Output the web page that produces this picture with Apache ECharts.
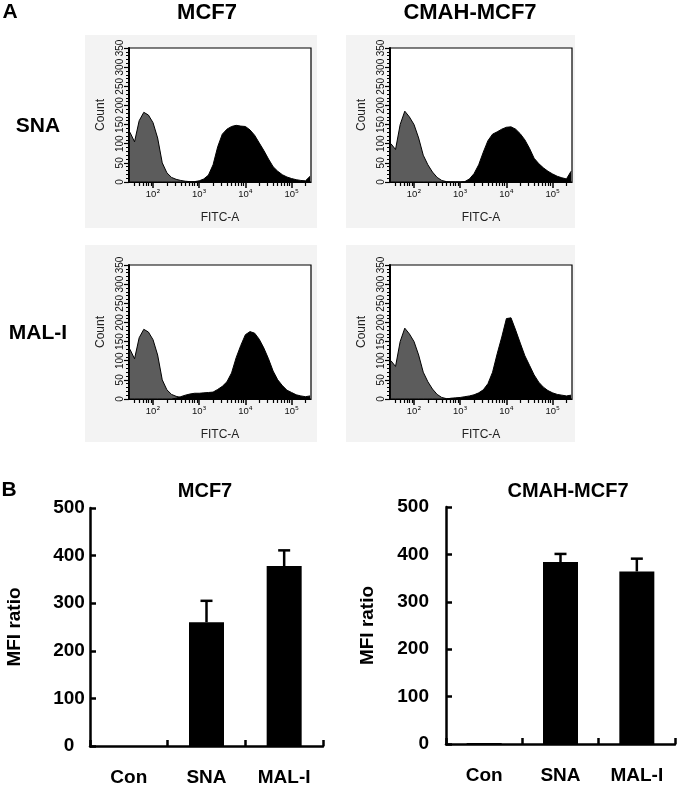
<!DOCTYPE html>
<html><head><meta charset="utf-8">
<script src="https://cdn.jsdelivr.net/npm/echarts@6/dist/echarts.min.js"></script>
<style>html,body{margin:0;padding:0;background:#fff}#c{width:680px;height:787px}</style>
</head><body><div id="c"></div>
<script>
// ---------- DATA ----------
// Histogram bins (log10 of FITC-A intensity)
const histBins = [1.5,1.6,1.7,1.8,1.9,2.0,2.1,2.2,2.3,2.4,2.5,2.6,2.7,2.8,2.9,3.0,3.1,3.2,3.3,3.4,3.5,3.6,3.7,3.8,3.9,4.0,4.1,4.2,4.3,4.4,4.5,4.6,4.7,4.8,4.9,5.0,5.1,5.2,5.3,5.4];
// MCF7 / SNA
const mcf7SnaCtrl   = [130,105,160,182,175,155,115,50,24,12,7,4,2,1,0,0,0,0,0,0,0,0,0,0,0,0,0,0,0,0,0,0,0,0,0,0,0,0,0,0];
const mcf7SnaLectin = [0,0,0,0,0,0,0,0,0,0,0,0,0,0,1,3,8,18,45,92,125,138,145,148,146,145,136,122,102,82,60,40,28,19,13,9,6,4,3,15];
// CMAH-MCF7 / SNA
const cmahSnaCtrl   = [100,85,150,185,170,150,115,70,45,26,12,4,1,0,0,0,0,0,0,0,0,0,0,0,0,0,0,0,0,0,0,0,0,0,0,0,0,0,0,0];
const cmahSnaLectin = [0,0,0,0,0,0,0,0,0,0,0,0,0,0,0,0,1,8,22,45,78,108,125,131,138,143,144,138,126,110,88,62,48,37,28,21,15,11,8,28];
// MCF7 / MAL-I
const mcf7MalCtrl   = [130,105,160,182,175,155,115,50,24,12,7,4,2,1,0,0,0,0,0,0,0,0,0,0,0,0,0,0,0,0,0,0,0,0,0,0,0,0,0,0];
const mcf7MalLectin = [0,0,0,0,0,0,0,0,0,0,2,6,10,13,15,15,16,17,18,25,33,45,68,108,140,168,176,172,156,133,105,73,50,35,23,17,11,8,6,8];
// CMAH-MCF7 / MAL-I
const cmahMalCtrl   = [100,85,150,185,170,150,115,70,45,26,12,4,1,0,0,0,0,0,0,0,0,0,0,0,0,0,0,0,0,0,0,0,0,0,0,0,0,0,0,0];
const cmahMalLectin = [0,0,0,0,0,0,0,0,0,0,0,0,0,2,3,4,6,8,11,16,24,40,70,118,162,210,212,180,146,113,88,63,44,31,22,16,12,10,8,10];
// Histogram axis ticks
const histDecades = [2,3,4,5];
const histDecadeSup = ['\u00B2','\u00B3','\u2074','\u2075'];
const histCountTicks = [0,50,100,150,200,250,300,350];
// Bar charts (panel B)
const barCategories = ['Con','SNA','MAL-I'];
const mcf7Mfi  = [0, 260, 378];
const mcf7Err  = [0, 45, 33];
const cmahMfi  = [2, 384, 364];
const cmahErr  = [0, 17, 27];

// ---------- LAYOUT ----------
const FONT = '"Liberation Sans", Arial, Helvetica, sans-serif';
const histPanels = [
  {left:129, top:48,  ctrl:mcf7SnaCtrl, lectin:mcf7SnaLectin},
  {left:390, top:48,  ctrl:cmahSnaCtrl, lectin:cmahSnaLectin},
  {left:129, top:265, ctrl:mcf7MalCtrl, lectin:mcf7MalLectin},
  {left:390, top:265, ctrl:cmahMalCtrl, lectin:cmahMalLectin}
];
const HW = 182, HH = 134, XMIN = 1.48, XMAX = 5.42;
const minorTickVals = [];
for (let n = 1; n <= 5; n++) for (let k = 2; k <= 9; k++) {
  const v = n + Math.log10(k);
  if (v > XMIN && v < XMAX) minorTickVals.push(v);
}

const grids = [], xAxes = [], yAxes = [], series = [];
histPanels.forEach((p, i) => {
  grids.push({left:p.left, top:p.top, width:HW, height:HH, show:true, borderColor:'#000', borderWidth:1.2, backgroundColor:'#fff'});
  xAxes.push({
    type:'value', gridIndex:i, min:XMIN, max:XMAX, position:'bottom', offset:0,
    splitLine:{show:false},
    axisLine:{show:true, lineStyle:{color:'#000', width:1}},
    axisTick:{show:true, customValues:histDecades, length:6, lineStyle:{color:'#000', width:1.5}},
    axisLabel:{customValues:histDecades, margin:6,
      formatter:v => '{m|10}{e|' + histDecadeSup[histDecades.indexOf(Math.round(v))] + '}',
      rich:{m:{fontSize:9.5, fontFamily:FONT, color:'#111', lineHeight:12},
            e:{fontSize:9.5, fontFamily:'"DejaVu Sans", sans-serif', color:'#111', lineHeight:12}}},
    name:'FITC-A', nameLocation:'middle', nameGap:30,
    nameTextStyle:{fontSize:12, fontFamily:FONT, color:'#222'}
  });
  xAxes.push({
    type:'value', gridIndex:i, min:XMIN, max:XMAX, position:'bottom', offset:0,
    splitLine:{show:false}, axisLine:{show:false},
    axisTick:{show:true, customValues:minorTickVals, length:4, lineStyle:{color:'#000', width:1.2}},
    axisLabel:{show:false}
  });
  yAxes.push({
    type:'value', gridIndex:i, min:0, max:350, interval:50,
    splitLine:{show:false},
    axisLine:{show:true, lineStyle:{color:'#000', width:2}},
    axisTick:{show:true, length:5, lineStyle:{color:'#000', width:1.2}},
    minorTick:{show:true, splitNumber:5, length:3, lineStyle:{color:'#000', width:1}},
    axisLabel:{rotate:90, fontSize:10, fontFamily:FONT, color:'#111', margin:4,
      formatter:v => histCountTicks.includes(v) ? String(v) : ''},
    name:'Count', nameLocation:'middle', nameGap:22,
    nameTextStyle:{fontSize:12, fontFamily:FONT, color:'#222'}
  });
  const mk = arr => histBins.map((b, j) => [b, arr[j]]);
  series.push({type:'line', xAxisIndex:2*i, yAxisIndex:i, data:mk(p.ctrl), symbol:'none', showSymbol:false,
    lineStyle:{color:'#000', width:1}, areaStyle:{color:'#5c5c5c', opacity:1}, silent:true, z:2});
  series.push({type:'line', xAxisIndex:2*i, yAxisIndex:i, data:mk(p.lectin), symbol:'none', showSymbol:false,
    lineStyle:{color:'#000', width:1}, areaStyle:{color:'#000', opacity:1}, silent:true, z:3});
});

// Bar charts
const barPanels = [
  {left:90,  top:508, width:233, height:239, vals:mcf7Mfi, errs:mcf7Err, labelMargin:21, labelAlign:'center', nameGap:66},
  {left:446, top:507, width:229, height:237, vals:cmahMfi, errs:cmahErr, labelMargin:17, labelAlign:'right',  nameGap:69}
];
barPanels.forEach((p, j) => {
  const gi = 4 + j;
  grids.push({left:p.left, top:p.top, width:p.width, height:p.height});
  xAxes.push({
    type:'category', gridIndex:gi, data:barCategories, boundaryGap:true,
    axisLine:{show:true, lineStyle:{color:'#000', width:2.5}},
    axisTick:{show:true, inside:true, length:6, lineStyle:{color:'#000', width:2.5}},
    axisLabel:{fontSize:19, fontWeight:'bold', fontFamily:FONT, color:'#000', margin:22},
    splitLine:{show:false}
  });
  yAxes.push({
    type:'value', gridIndex:gi, min:0, max:500, interval:100,
    axisLine:{show:true, lineStyle:{color:'#000', width:2.5}},
    axisTick:{show:true, inside:true, length:6, lineStyle:{color:'#000', width:2.5}},
    axisLabel:{fontSize:19, fontWeight:'bold', fontFamily:FONT, color:'#000', margin:p.labelMargin, align:p.labelAlign},
    splitLine:{show:false},
    name:'MFI ratio', nameLocation:'middle', nameGap:p.nameGap,
    nameTextStyle:{fontSize:19, fontWeight:'bold', fontFamily:FONT, color:'#000'}
  });
  const xi = 8 + j, yi = 4 + j;
  series.push({type:'bar', xAxisIndex:xi, yAxisIndex:yi, data:p.vals, barWidth:35,
    itemStyle:{color:'#000'}, silent:true, z:2});
  series.push({type:'custom', xAxisIndex:xi, yAxisIndex:yi, silent:true, z:3,
    data:p.vals.map((v, k) => [k, v, p.errs[k]]),
    renderItem:(params, api) => {
      const e = api.value(2);
      if (!e) return null;
      const base = api.coord([api.value(0), api.value(1)]);
      const top = api.coord([api.value(0), api.value(1) + e]);
      const st = {stroke:'#000', lineWidth:2.5};
      return {type:'group', children:[
        {type:'line', shape:{x1:base[0], y1:base[1], x2:top[0], y2:top[1]}, style:st},
        {type:'line', shape:{x1:top[0]-6, y1:top[1], x2:top[0]+6, y2:top[1]}, style:st}
      ]};
    }
  });
});

const txt = (text, x, y, size) => ({type:'text', x, y, silent:true, z:10,
  style:{text, fontSize:size, fontWeight:'bold', fontFamily:FONT, fill:'#000', align:'center', verticalAlign:'middle'}});
const bg = (x, y, w, h) => ({type:'rect', shape:{x, y, width:w, height:h}, style:{fill:'#f3f3f3'}, z:-10, silent:true});

const chart = echarts.init(document.getElementById('c'), null, {renderer:'canvas'});
chart.setOption({
  animation:false,
  backgroundColor:'#fff',
  grid:grids, xAxis:xAxes, yAxis:yAxes, series,
  graphic:[
    bg(85, 35, 232, 193), bg(346, 35, 229, 193), bg(85, 245, 232, 197), bg(346, 245, 229, 197),
    txt('A', 10, 12, 21), txt('MCF7', 207, 13, 22), txt('CMAH-MCF7', 470, 13, 22),
    txt('SNA', 38, 126, 21), txt('MAL-I', 38, 333, 21),
    txt('B', 9, 490, 21), txt('MCF7', 205, 491, 20), txt('CMAH-MCF7', 568, 491, 20)
  ]
});
</script></body></html>
